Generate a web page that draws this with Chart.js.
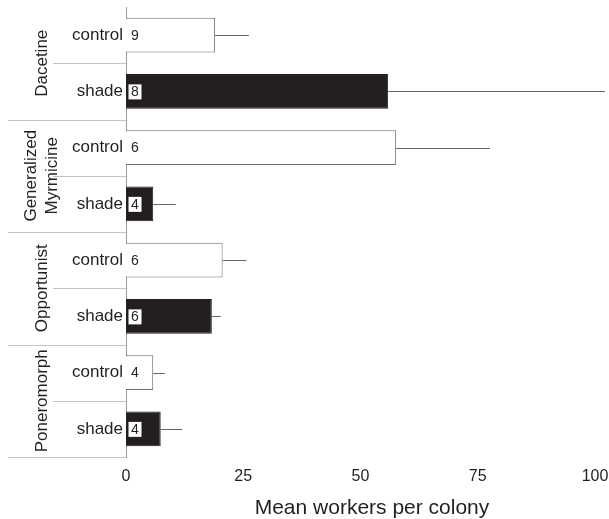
<!DOCTYPE html>
<html>
<head>
<meta charset="utf-8">
<script src="https://cdn.jsdelivr.net/npm/chart.js@4/dist/chart.umd.min.js"></script>
<style>
  html, body { margin: 0; padding: 0; background: #fff; }
  #wrap { width: 609px; height: 519px; position: relative; }
</style>
</head>
<body>
<div id="wrap"><canvas id="c" width="609" height="519"></canvas></div>
<script>
// ---- data ----
const categories = ['control', 'shade', 'control', 'shade', 'control', 'shade', 'control', 'shade'];
const groups = [['Dacetine'], ['Generalized', 'Myrmicine'], ['Opportunist'], ['Poneromorph']];
const meanWorkers = [19.0, 55.9, 57.6, 5.8, 20.6, 18.3, 5.8, 7.4];
const errorUpper = [7.2, 46.2, 20.0, 4.8, 5.1, 1.9, 2.5, 4.6];
const sampleSizes = [9, 8, 6, 4, 6, 6, 4, 4];
const xTicks = [0, 25, 50, 75, 100];
const xTitle = 'Mean workers per colony';

const FONT = "'Liberation Sans', Arial, sans-serif";
const TEXT = '#231f20';
const BLACK = '#231f20';

const isShade = categories.map(c => c === 'shade');

const extrasPlugin = {
  id: 'extras',
  afterDatasetsDraw(chart) {
    const ctx = chart.ctx;
    const xs = chart.scales.x, ys = chart.scales.y;
    const ca = chart.chartArea;
    ctx.save();
    // error bars
    ctx.strokeStyle = '#666';
    ctx.lineWidth = 1;
    meanWorkers.forEach((v, i) => {
      const y = Math.round(ys.getPixelForValue(i)) + 0.5;
      const x0 = xs.getPixelForValue(v);
      const x1 = xs.getPixelForValue(v + errorUpper[i]);
      ctx.beginPath();
      ctx.moveTo(x0, y);
      ctx.lineTo(x1, y);
      ctx.stroke();
    });
    // sample size labels
    const x0 = xs.getPixelForValue(0);
    ctx.font = '14px ' + FONT;
    ctx.textAlign = 'center';
    ctx.textBaseline = 'middle';
    sampleSizes.forEach((n, i) => {
      const y = ys.getPixelForValue(i);
      if (isShade[i]) {
        ctx.fillStyle = '#fff';
        ctx.fillRect(x0 + 2.5, y - 7, 13, 15);
      }
      ctx.fillStyle = TEXT;
      ctx.fillText(String(n), x0 + 9, y + 1);
    });
    // group separators
    ctx.strokeStyle = '#c4c4c4';
    for (let i = 0; i < categories.length; i++) {
      let yb;
      if (i < categories.length - 1) {
        yb = (ys.getPixelForValue(i) + ys.getPixelForValue(i + 1)) / 2;
      } else {
        yb = ca.bottom;
      }
      yb = Math.round(yb) + 0.5;
      const full = (i % 2 === 1);
      ctx.beginPath();
      ctx.moveTo(full ? 8 : 53, yb);
      ctx.lineTo(ca.left, yb);
      ctx.stroke();
    }
    // group labels (rotated)
    ctx.fillStyle = TEXT;
    ctx.font = '17px ' + FONT;
    ctx.textAlign = 'center';
    ctx.textBaseline = 'middle';
    groups.forEach((lines, g) => {
      const yc = (ys.getPixelForValue(2 * g) + ys.getPixelForValue(2 * g + 1)) / 2;
      const lh = 21;
      const xc = 42 - (lines.length - 1) * lh / 2;
      lines.forEach((t, k) => {
        ctx.save();
        ctx.translate(xc + k * lh, yc);
        ctx.rotate(-Math.PI / 2);
        ctx.fillText(t, 0, 0);
        ctx.restore();
      });
    });
    // x axis title
    ctx.font = '21px ' + FONT;
    ctx.textAlign = 'center';
    ctx.textBaseline = 'middle';
    ctx.fillText(xTitle, 372, 508);
    ctx.restore();
  }
};

new Chart(document.getElementById('c'), {
  type: 'bar',
  data: {
    labels: categories,
    datasets: [{
      data: meanWorkers,
      backgroundColor: isShade.map(s => s ? BLACK : '#ffffff'),
      borderColor: isShade.map(s => s ? BLACK : '#6d6d6d'),
      borderWidth: 1,
      barPercentage: 0.62,
      categoryPercentage: 1.0
    }]
  },
  options: {
    indexAxis: 'y',
    responsive: false,
    animation: false,
    devicePixelRatio: 1,
    layout: { padding: { left: 0, right: 14, top: 7, bottom: 0 } },
    plugins: { legend: { display: false }, tooltip: { enabled: false } },
    scales: {
      x: {
        type: 'linear',
        min: 0, max: 100,
        afterBuildTicks(s) { s.ticks = xTicks.map(v => ({ value: v })); },
        afterFit(s) { s.height = 62; s.paddingLeft = 0; s.paddingRight = 0; },
        grid: { display: false, drawTicks: false },
        border: { display: false },
        ticks: { font: { family: FONT, size: 16 }, color: TEXT, padding: 10, maxRotation: 0 }
      },
      y: {
        afterFit(s) { s.width = 126; s.paddingTop = 0; s.paddingBottom = 0; },
        grid: { display: false, drawTicks: false },
        border: { display: true, color: '#9a9a9a', width: 1 },
        ticks: { font: { family: FONT, size: 17 }, color: TEXT, padding: 3 }
      }
    }
  },
  plugins: [extrasPlugin]
});
</script>
</body>
</html>
